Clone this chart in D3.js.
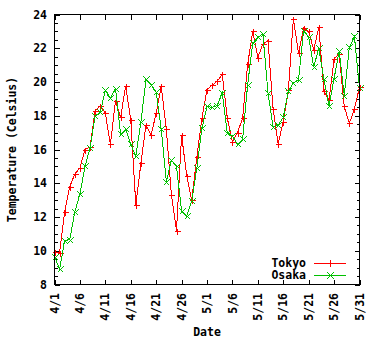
<!DOCTYPE html>
<html>
<head>
<meta charset="utf-8">
<script src="https://cdn.jsdelivr.net/npm/d3@7"></script>
<style>
  html, body { margin: 0; padding: 0; background: #fff; }
  svg text { font-family: "DejaVu Sans Mono", "Liberation Mono", monospace; font-weight: bold; font-size: 11.5px; fill: #000; }
</style>
</head>
<body>
<svg id="chart" width="380" height="340"></svg>
<script>
// ---- data ----
const year = 2000;
const startDate = "4/1";
const dayCount = 61;
const seriesNames = ["Tokyo", "Osaka"];
const tokyo = [
  9.95, 9.88, 12.3, 13.8, 14.55, 14.9, 16.0, 16.15, 18.3, 18.6,
  18.15, 16.3, 18.9, 17.9, 19.75, 17.75, 12.7, 15.2, 17.45, 16.85,
  18.15, 19.75, 17.2, 13.3, 11.2, 16.85, 14.45, 13.0, 15.55, 17.85,
  19.55, 19.8, 20.05, 20.45, 17.85, 16.45, 17.0, 17.85, 21.05, 23.0,
  21.45, 22.25, 22.45, 18.4, 16.35, 17.65, 19.5, 23.75, 21.7, 23.2,
  23.0, 21.9, 23.25, 19.45, 18.95, 21.35, 21.65, 18.55, 17.55, 18.4,
  19.7
];
const osaka = [
  9.65, 8.9, 10.6, 10.65, 12.3, 13.35, 15.0, 16.1, 18.0, 18.2,
  19.5, 19.05, 19.6, 16.9, 17.2, 16.3, 15.6, 17.65, 20.15, 19.85,
  19.4, 17.2, 14.1, 15.35, 15.0, 12.35, 12.05, 12.95, 14.9, 17.25,
  18.55, 18.5, 18.6, 19.35, 16.95, 16.8, 16.3, 16.6, 19.85, 22.3,
  22.65, 22.85, 19.35, 17.35, 17.45, 17.9, 19.45, 19.95, 20.1, 23.05,
  22.65, 20.9, 22.0, 20.15, 18.6, 20.2, 21.85, 19.2, 22.05, 22.7,
  19.65
];
const xTickLabels = ["4/1","4/6","4/11","4/16","4/21","4/26","5/1","5/6","5/11","5/16","5/21","5/26","5/31"];
const yTicks = [8, 10, 12, 14, 16, 18, 20, 22, 24];
const yDomain = [8, 24];
const xTitle = "Date";
const yTitle = "Temperature (Celsius)";

// ---- build ----
const parse = d3.timeParse("%Y/%m/%d");
const fmt = d3.timeFormat("%-m/%-d");
const d0 = parse(year + "/" + startDate);
const dates = d3.range(dayCount).map(i => d3.timeDay.offset(d0, i));
const series = [
  { name: seriesNames[0], values: tokyo, color: "#ff0000", marker: "plus" },
  { name: seriesNames[1], values: osaka, color: "#00c000", marker: "cross" }
];
const tickDates = xTickLabels.map(s => parse(year + "/" + s));

const L = 54.5, R = 359.5, T = 14.5, B = 284.5;
const svg = d3.select("#chart");
const x = d3.scaleTime().domain([dates[0], dates[dates.length - 1]]).range([L, R]);
const y = d3.scaleLinear().domain(yDomain).range([B, T]);

const minorY = d3.range(yDomain[0], yDomain[1] + 0.001, 0.5).filter(v => !yTicks.includes(v));

function markerPath(type, cx, cy, s) {
  if (type === "plus") return `M${cx - s},${cy}h${2 * s}M${cx},${cy - s}v${2 * s}`;
  return `M${cx - s},${cy - s}L${cx + s},${cy + s}M${cx - s},${cy + s}L${cx + s},${cy - s}`;
}

// axes (ticks inward, mirrored)
const gAx = svg.append("g");
gAx.append("g").attr("transform", `translate(${L},0)`)
  .call(d3.axisRight(y).tickValues(yTicks).tickSize(5).tickFormat(""))
  .call(g => g.select(".domain").remove());
gAx.append("g").attr("transform", `translate(${L},0)`)
  .call(d3.axisRight(y).tickValues(minorY).tickSize(3).tickFormat(""))
  .call(g => g.select(".domain").remove());
gAx.append("g").attr("transform", `translate(${R},0)`)
  .call(d3.axisLeft(y).tickValues(yTicks).tickSize(5).tickFormat(""))
  .call(g => g.select(".domain").remove());
gAx.append("g").attr("transform", `translate(${R},0)`)
  .call(d3.axisLeft(y).tickValues(minorY).tickSize(3).tickFormat(""))
  .call(g => g.select(".domain").remove());
gAx.append("g").attr("transform", `translate(0,${B})`)
  .call(d3.axisTop(x).tickValues(tickDates).tickSize(5).tickFormat(""))
  .call(g => g.select(".domain").remove());
gAx.append("g").attr("transform", `translate(0,${T})`)
  .call(d3.axisBottom(x).tickValues(tickDates).tickSize(5).tickFormat(""))
  .call(g => g.select(".domain").remove());
gAx.selectAll("line").attr("stroke", "#000").attr("shape-rendering", "crispEdges");

// y tick labels
svg.append("g").selectAll("text").data(yTicks).join("text")
  .attr("x", 47).attr("y", d => y(d)).attr("dy", "0.36em")
  .attr("text-anchor", "end").text(d => d);

// x tick labels (rotated)
svg.append("g").selectAll("text").data(tickDates).join("text")
  .attr("transform", d => `translate(${x(d)},293) rotate(-90)`)
  .attr("dy", "0.36em").attr("text-anchor", "end").text(d => fmt(d));

// titles
svg.append("text").attr("x", (L + R) / 2).attr("y", 336).attr("text-anchor", "middle").text(xTitle);
svg.append("text").attr("transform", `translate(16,${(T + B) / 2}) rotate(-90)`)
  .attr("text-anchor", "middle").text(yTitle);

// series
const line = d3.line().x((d, i) => x(dates[i])).y(d => y(d));
const gS = svg.append("g");
series.forEach(s => {
  gS.append("path").attr("d", line(s.values)).attr("fill", "none")
    .attr("stroke", s.color).attr("stroke-width", 1).attr("shape-rendering", "crispEdges");
  gS.append("path").attr("d", s.values.map((v, i) => markerPath(s.marker, Math.round(x(dates[i])) + 0.5, Math.round(y(v)) + 0.5, 3)).join(""))
    .attr("fill", "none").attr("stroke", s.color).attr("stroke-width", 1).attr("shape-rendering", "crispEdges");
});

// legend
const gL = svg.append("g");
series.forEach((s, i) => {
  const ly = 262.5 + i * 12.8;
  gL.append("text").attr("x", 306).attr("y", ly).attr("dy", "0.36em").attr("text-anchor", "end").text(s.name);
  gL.append("line").attr("x1", 314).attr("x2", 346).attr("y1", Math.round(ly) + 0.5).attr("y2", Math.round(ly) + 0.5)
    .attr("stroke", s.color).attr("shape-rendering", "crispEdges");
  gL.append("path").attr("d", markerPath(s.marker, 330.5, Math.round(ly) + 0.5, 3.5))
    .attr("fill", "none").attr("stroke", s.color).attr("shape-rendering", "crispEdges");
});

// frame
svg.append("rect").attr("x", L).attr("y", T).attr("width", R - L).attr("height", B - T)
  .attr("fill", "none").attr("stroke", "#000").attr("shape-rendering", "crispEdges");
</script>
</body>
</html>
